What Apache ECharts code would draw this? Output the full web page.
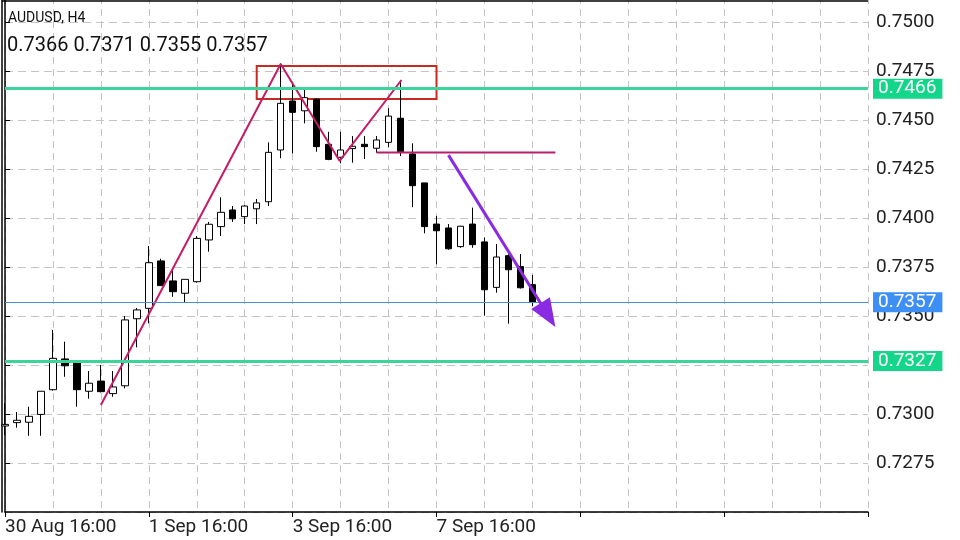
<!DOCTYPE html>
<html>
<head>
<meta charset="utf-8">
<script src="https://cdn.jsdelivr.net/npm/echarts@6/dist/echarts.min.js"></script>
<style>html,body{margin:0;padding:0;background:#fff}#c{width:960px;height:540px}</style>
</head>
<body>
<div id="c"></div>
<script>
// ---- data ----
const symbolName = 'AUDUSD, H4';
const barTimes = [
  '30 Aug 16:00','30 Aug 20:00',
  '31 Aug 00:00','31 Aug 04:00','31 Aug 08:00','31 Aug 12:00','31 Aug 16:00','31 Aug 20:00',
  '1 Sep 00:00','1 Sep 04:00','1 Sep 08:00','1 Sep 12:00','1 Sep 16:00','1 Sep 20:00',
  '2 Sep 00:00','2 Sep 04:00','2 Sep 08:00','2 Sep 12:00','2 Sep 16:00','2 Sep 20:00',
  '3 Sep 00:00','3 Sep 04:00','3 Sep 08:00','3 Sep 12:00','3 Sep 16:00','3 Sep 20:00',
  '6 Sep 00:00','6 Sep 04:00','6 Sep 08:00','6 Sep 12:00','6 Sep 16:00','6 Sep 20:00',
  '7 Sep 00:00','7 Sep 04:00','7 Sep 08:00','7 Sep 12:00','7 Sep 16:00','7 Sep 20:00',
  '8 Sep 00:00','8 Sep 04:00','8 Sep 08:00','8 Sep 12:00','8 Sep 16:00','8 Sep 20:00',
  '9 Sep 00:00'
];
const opens = [.72939,.72956,.72958,.72998,.73124,.73281,.73262,.73116,.73168,.73104,.73144,.73486,.73539,.73781,.73679,.73616,.73675,.73888,.73956,.74041,.74007,.74047,.74083,.74347,.74597,.74547,.74606,.74376,.74310,.74354,.74376,.74356,.74386,.74509,.74327,.74179,.73969,.73949,.73854,.73969,.73878,.73646,.73808,.73752,.7366];
const highs = [.73056,.73010,.73037,.73116,.73429,.73369,.73265,.73219,.73250,.73219,.73500,.73541,.73857,.73792,.73735,.73687,.73908,.73980,.74106,.74061,.74065,.74097,.74386,.74789,.74687,.74657,.74610,.74440,.74440,.74418,.74418,.74418,.74560,.74701,.74381,.74179,.74010,.73969,.73960,.74053,.73900,.73867,.73815,.73816,.7371];
const lows = [.72893,.72930,.72889,.72889,.73119,.73190,.73037,.73078,.73110,.73088,.73131,.73340,.73463,.73655,.73598,.73568,.73670,.73828,.73908,.73980,.73969,.73969,.74061,.74305,.74330,.74483,.74338,.74295,.74279,.74282,.74301,.74333,.74361,.74316,.74055,.73922,.73764,.73838,.73848,.73848,.73502,.73619,.73461,.73640,.7355];
const closes = [.72947,.72968,.72988,.73116,.73284,.73246,.73124,.73157,.73114,.73138,.73480,.73531,.73772,.73655,.73624,.73687,.73896,.73968,.74029,.73996,.74061,.74077,.74335,.74585,.74539,.74614,.74364,.74299,.74347,.74366,.74364,.74398,.74520,.74338,.74165,.73956,.73935,.73843,.73958,.73864,.73634,.73801,.73736,.73644,.7357];

// horizontal levels
const levelGreen = [0.7466, 0.7327];
const levelBid = 0.7357;

// drawings in (bar index, price)
const zigzagPts = [[8, 0.73046], [23, 0.74786], [27.92, 0.74291], [33.08, 0.74704]];
const necklinePts = [[31, 0.74334], [45.92, 0.74334]];
const boxCorners = [[21, 0.74776], [36, 0.74607]];
const arrowPts = [[37, 0.74321], [45.3, 0.73505]];

// axis settings
const yMin = 0.7250, yMax = 0.7525, yStep = 0.0025;
const slotCount = 73;
const labelEvery = 12;

// ---- build ----
const categories = barTimes.slice();
for (let i = barTimes.length; i < slotCount; i++) categories.push('_' + i);
const candleData = opens.map((o, i) => [o, closes[i], lows[i], highs[i]]);
const last = opens.length - 1;
const ohlcText = [opens[last], highs[last], lows[last], closes[last]].map(v => v.toFixed(4)).join(' ');
const allLevels = levelGreen.concat([levelBid]);

const font = 'Roboto';
const chart = echarts.init(document.getElementById('c'), null, {renderer: 'canvas'});
const lvlLabel = (bg) => ({
  show: true, position: 'end', distance: 5,
  formatter: p => Number(p.value).toFixed(4),
  color: '#fff', backgroundColor: bg, fontFamily: font, fontSize: 19,
  padding: [1, 6, 0, 5], lineHeight: 19
});
chart.setOption({
  animation: false,
  backgroundColor: '#fff',
  title: [
    {text: symbolName, left: 8, top: 11, padding: 0, textStyle: {fontFamily: font, fontSize: 14, fontWeight: 'normal', color: '#111'}},
    {text: ohlcText, left: 7, top: 36, padding: 0, textStyle: {fontFamily: font, fontSize: 20, fontWeight: 'normal', color: '#111'}}
  ],
  grid: {left: 5, right: 92, top: -27, bottom: 28, containLabel: false, outerBoundsMode: 'none'},
  graphic: [{type: 'line', shape: {x1: 2, y1: 1, x2: 868, y2: 1}, style: {stroke: '#000', lineWidth: 1.5}, z: 100}],
  xAxis: [
    {
      type: 'category', data: categories, boundaryGap: false,
      axisLine: {lineStyle: {color: '#000', width: 1.5}},
      axisTick: {show: true, interval: labelEvery - 1, length: 5, lineStyle: {color: '#000'}},
      axisLabel: {
        interval: labelEvery - 1, align: 'left', margin: 6, fontFamily: font, fontSize: 19, color: '#222',
        formatter: (v, i) => (i < barTimes.length ? v : '')
      },
      splitLine: {show: true, interval: 3, lineStyle: {color: '#c4c4c4', type: [7, 5], width: 1}}
    },
    {type: 'value', min: 0, max: slotCount - 1, show: false}
  ],
  yAxis: [
    {
      type: 'value', position: 'right', min: yMin, max: yMax, interval: yStep,
      axisLine: {show: true, lineStyle: {color: '#000', width: 1.5}},
      axisTick: {show: true, length: 5, lineStyle: {color: '#000'}},
      axisLabel: {
        margin: 8, fontFamily: font, fontSize: 19, color: '#222', showMinLabel: false, showMaxLabel: false,
        formatter: v => (allLevels.some(l => Math.abs(l - v) < 0.0003) ? '' : v.toFixed(4))
      },
      splitLine: {show: true, lineStyle: {color: '#c4c4c4', type: [8, 5], width: 1}}
    },
    {
      type: 'value', position: 'left', offset: 3, min: yMin, max: yMax,
      axisLine: {show: true, lineStyle: {color: '#000', width: 1.5}},
      axisTick: {show: false}, axisLabel: {show: false}, splitLine: {show: false}
    }
  ],
  series: [
    {
      type: 'candlestick', data: candleData, barWidth: 7, clip: false,
      itemStyle: {color: '#fff', borderColor: '#000', color0: '#000', borderColor0: '#000', borderWidth: 1},
      markLine: {
        silent: true, symbol: 'none', animation: false, precision: 5,
        data: [
          {yAxis: levelGreen[0], lineStyle: {color: '#3dd49c', width: 3, type: 'solid'}, label: lvlLabel('#14d68a')},
          {yAxis: levelBid, lineStyle: {color: '#4a8fdc', width: 1, type: 'solid'}, label: lvlLabel('#3d8ef5')},
          {yAxis: levelGreen[1], lineStyle: {color: '#3dd49c', width: 3, type: 'solid'}, label: lvlLabel('#14d68a')}
        ]
      },
      z: 3
    },
    {
      type: 'line', xAxisIndex: 1, data: zigzagPts, symbol: 'none',
      lineStyle: {color: '#c61c66', width: 2}, z: 4,
      markArea: {
        silent: true,
        itemStyle: {color: 'rgba(0,0,0,0)', borderColor: '#c62a22', borderWidth: 2},
        data: [[{coord: boxCorners[0]}, {coord: boxCorners[1]}]]
      }
    },
    {
      type: 'line', xAxisIndex: 1, data: necklinePts, symbol: 'none',
      lineStyle: {color: '#b8206e', width: 2}, z: 4
    },
    {
      type: 'line', xAxisIndex: 1, data: [], symbol: 'none', z: 5,
      markLine: {
        silent: true, symbol: ['none', 'triangle'], symbolSize: [22, 28], precision: 5,
        label: {show: false},
        lineStyle: {color: '#8a2be2', width: 3, type: 'solid'},
        data: [[{coord: arrowPts[0]}, {coord: arrowPts[1]}]]
      }
    }
  ]
});
</script>
</body>
</html>
